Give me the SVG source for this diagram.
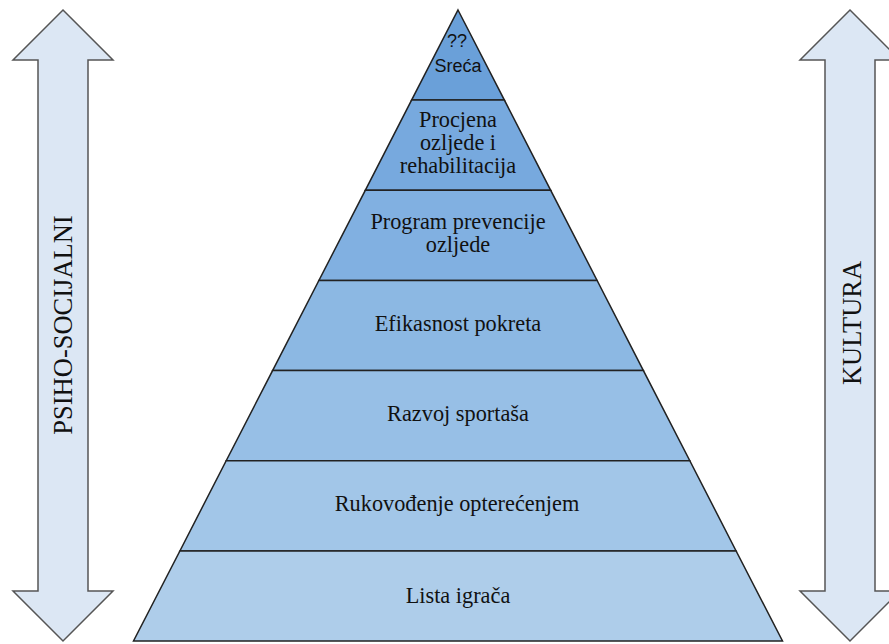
<svg xmlns="http://www.w3.org/2000/svg" width="889" height="644" viewBox="0 0 889 644">
<style>
.arrow{fill:#dce7f4;stroke:#555;stroke-width:1.5;stroke-linejoin:miter}
.lay{stroke:#222;stroke-width:1.5;stroke-linejoin:miter}
.t{font-family:"Liberation Serif","Times New Roman",serif;font-size:22.3px;fill:#111;text-anchor:middle}
.s{font-family:"Liberation Sans",Arial,sans-serif;font-size:18px;fill:#111;text-anchor:middle}
.side{font-family:"Liberation Serif","Times New Roman",serif;font-size:26.5px;fill:#111;text-anchor:middle}
</style>
<rect width="889" height="644" fill="#fff"/>
<g id="arrow-left">
<polygon class="arrow" points="63,10 113,60 88,60 88,591 113,591 63,641 13,591 38,591 38,60 13,60"/>
<text class="side" transform="translate(72,325) rotate(-90)">PSIHO-SOCIJALNI</text>
</g>
<g id="arrow-right">
<polygon class="arrow" points="850,10 900,60 875,60 875,591 900,591 850,641 800,591 825,591 825,60 800,60"/>
<text class="side" transform="translate(861,323) rotate(-90)">KULTURA</text>
</g>
<g id="pyramid">
<g id="layer1">
<polygon class="lay" fill="#6aa0d9" points="458,10 504.4,100.1 411.6,100.1"/>
<text class="s" x="457" y="47">??</text>
<text class="s" x="458" y="72">Sreća</text>
</g>
<g id="layer2">
<polygon class="lay" fill="#77a9de" points="411.6,100.1 504.4,100.1 550.7,190.3 365.3,190.3"/>
<text class="t" x="458" y="127">Procjena</text>
<text class="t" x="458" y="150">ozljede i</text>
<text class="t" x="458" y="173">rehabilitacija</text>
</g>
<g id="layer3">
<polygon class="lay" fill="#81b0e1" points="365.3,190.3 550.7,190.3 597.1,280.4 318.9,280.4"/>
<text class="t" x="458" y="229">Program prevencije</text>
<text class="t" x="458" y="252">ozljede</text>
</g>
<g id="layer4">
<polygon class="lay" fill="#8cb8e3" points="318.9,280.4 597.1,280.4 643.4,370.6 272.6,370.6"/>
<text class="t" x="458" y="331">Efikasnost pokreta</text>
</g>
<g id="layer5">
<polygon class="lay" fill="#97bfe6" points="272.6,370.6 643.4,370.6 689.8,460.7 226.2,460.7"/>
<text class="t" x="458" y="421">Razvoj sportaša</text>
</g>
<g id="layer6">
<polygon class="lay" fill="#a2c6e8" points="226.2,460.7 689.8,460.7 736.1,550.9 179.9,550.9"/>
<text class="t" x="457" y="511">Rukovođenje opterećenjem</text>
</g>
<g id="layer7">
<polygon class="lay" fill="#aecdea" points="179.9,550.9 736.1,550.9 782.5,641 133.5,641"/>
<text class="t" x="458" y="603">Lista igrača</text>
</g>
</g>
<g id="connectors"/>
</svg>
